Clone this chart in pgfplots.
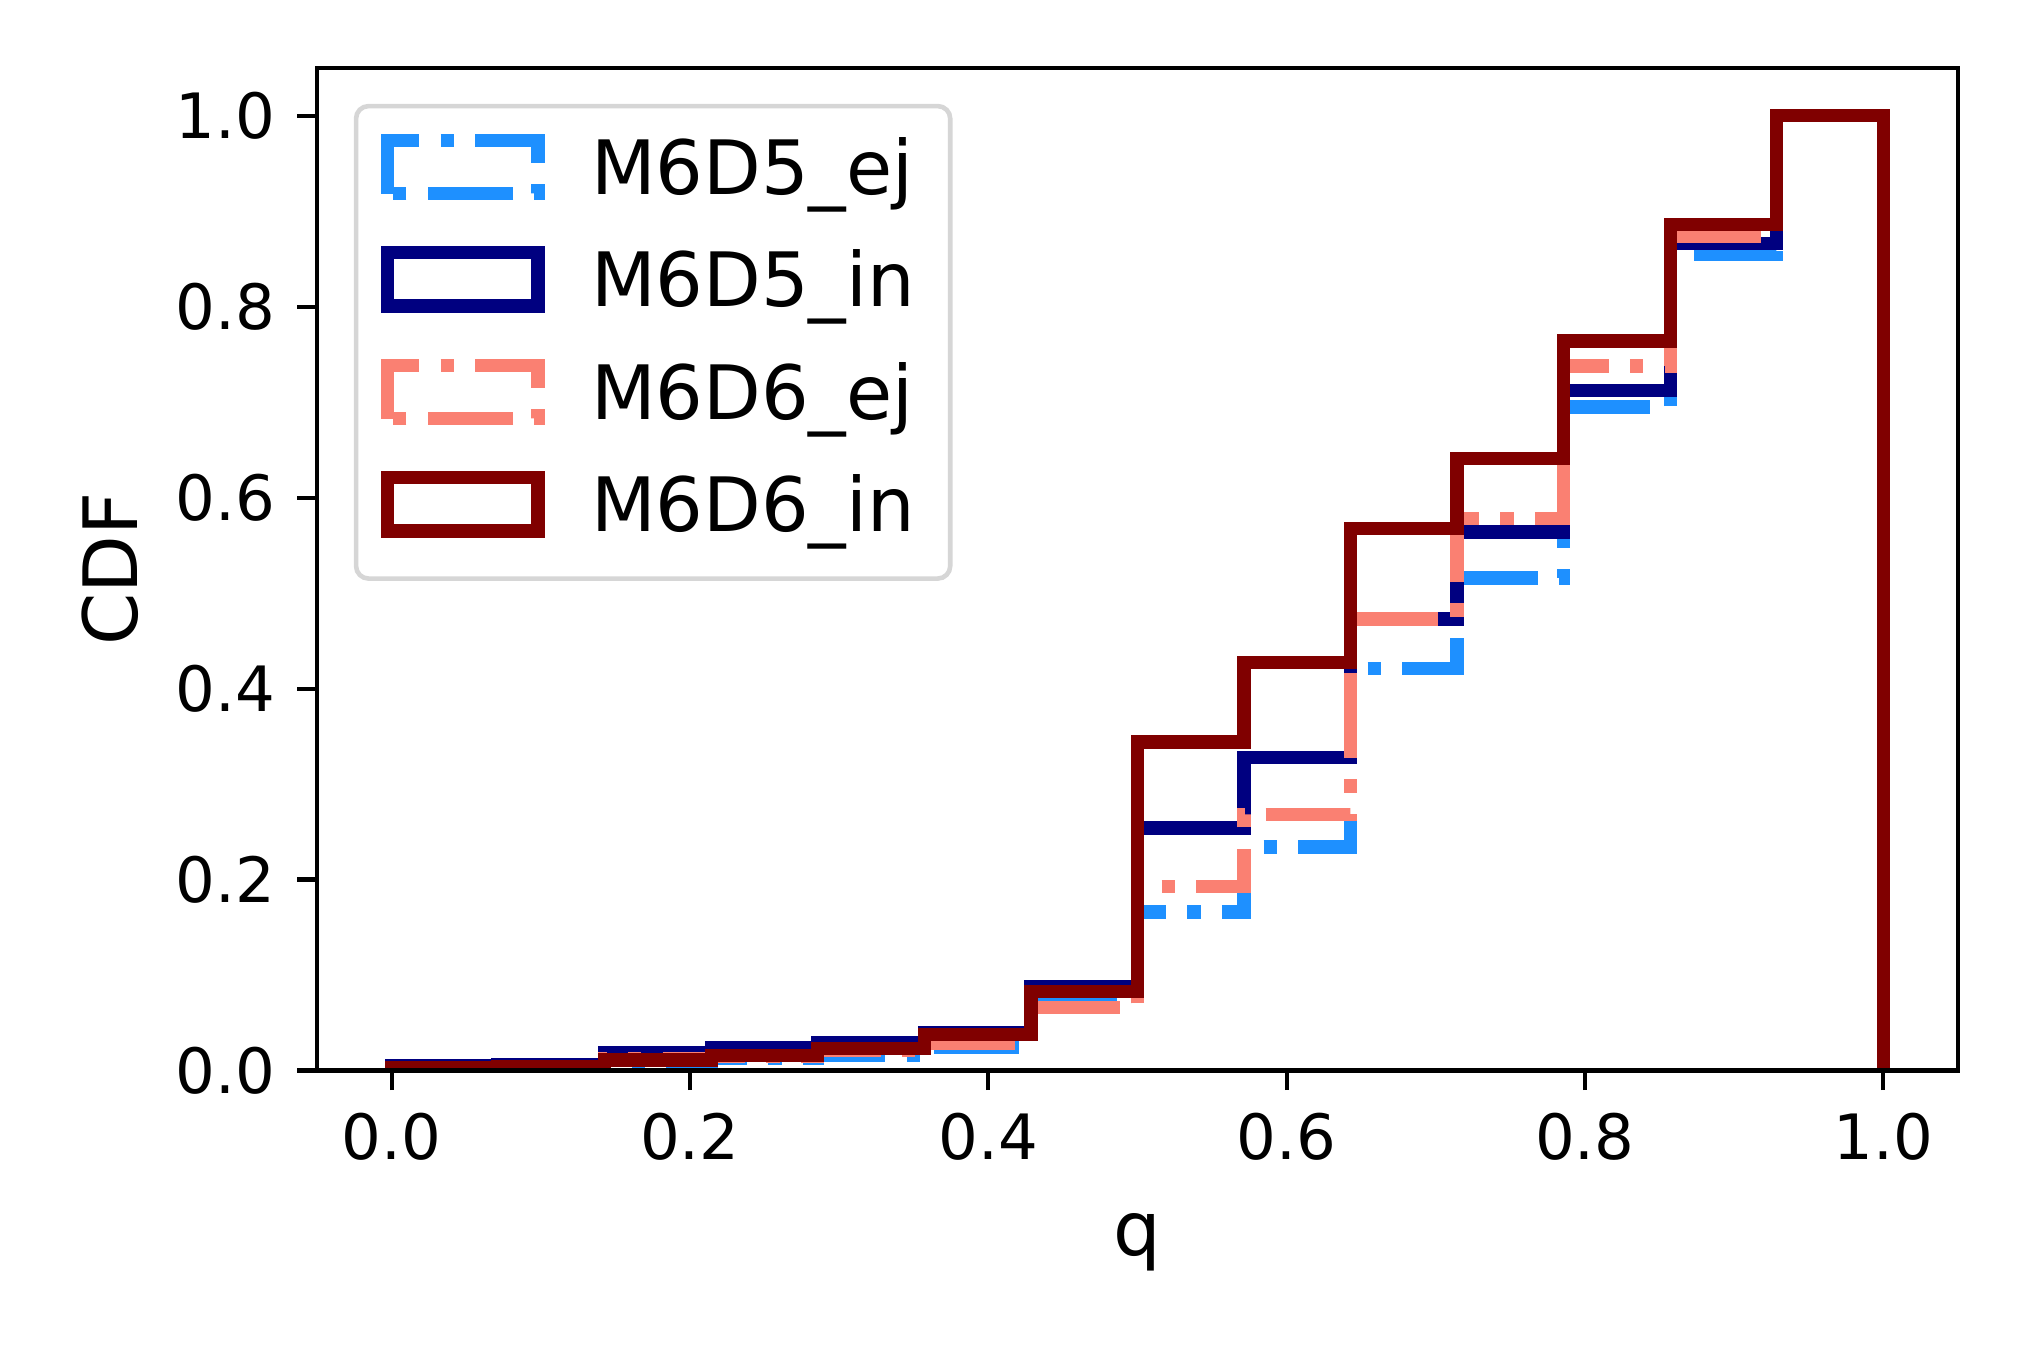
\documentclass[border=0pt]{standalone}
\usepackage{fontspec}
\setmainfont{DejaVu Sans}
\usepackage{pgfplots}
\usepackage{pgfplotstable}
\pgfplotsset{compat=1.18}
\definecolor{cEJfive}{HTML}{1E90FF}
\definecolor{cINfive}{HTML}{000080}
\definecolor{cEJsix}{HTML}{FA8072}
\definecolor{cINsix}{HTML}{800000}
\definecolor{legframe}{HTML}{D6D6D6}

% step outline of cumulative histograms (14 bins on [0,1])
\pgfplotstableread{
x        a     b     c     d
0        0     0     0     0
0        0.002 0.005 0.002 0.003
0.071429 0.003 0.006 0.003 0.004
0.142857 0.008 0.019 0.012 0.011
0.214286 0.013 0.024 0.015 0.0155
0.285714 0.016 0.029 0.021 0.023
0.357143 0.024 0.040 0.028 0.038
0.428571 0.069 0.088 0.066 0.083
0.5      0.166 0.254 0.193 0.344
0.571429 0.234 0.328 0.268 0.427
0.642857 0.421 0.473 0.473 0.568
0.714286 0.516 0.564 0.578 0.641
0.785714 0.695 0.712 0.738 0.764
0.857143 0.855 0.866 0.874 0.886
0.928571 1     1     1     1
1        1     1     1     1
1        0     0     0     0
}\cdf

\begin{document}
\begin{tikzpicture}
\useasboundingbox (0,0) rectangle (486pt,324pt);
\begin{axis}[
  at={(76.08pt,67.08pt)}, anchor=south west,
  scale only axis, width=393.8pt, height=240.6pt,
  xmin=-0.05, xmax=1.05, ymin=0, ymax=1.05,
  xtick={0,0.2,0.4,0.6,0.8,1.0},
  ytick={0,0.2,0.4,0.6,0.8,1.0},
  xticklabel={\pgfmathprintnumber[fixed,fixed zerofill,precision=1]{\tick}},
  yticklabel={\pgfmathprintnumber[fixed,fixed zerofill,precision=1]{\tick}},
  /pgf/number format/assume math mode=true,
  tick label style={font=\fontsize{15}{18}\selectfont},
  xticklabel style={anchor=base, inner sep=0pt, yshift=-16.6pt},
  yticklabel style={anchor=east, inner sep=0pt, xshift=-5.1pt},
  tick align=outside, tick pos=left,
  major tick length=4.7pt,
  tick style={line width=1pt, black},
  axis line style={line width=1.03pt},
  axis on top,
  xlabel={q}, ylabel={CDF},
  label style={font=\fontsize{18}{21.6}\selectfont},
  xlabel style={at={(axis description cs:0.5,-0.185)}, anchor=base, inner sep=0pt},
  ylabel style={at={(axis description cs:-0.1097,0.5)}, anchor=base, inner sep=0pt},
  legend cell align=left,
  legend image code/.code={
    \draw[#1, sharp corners, fill=none] (0pt,-6.4pt) rectangle (36.2pt,6.4pt);
    \path[draw=none, fill=none] (0pt,-15.1pt) rectangle (48.9pt,11.9pt);
  },
  legend style={
    at={(axis description cs:0.0238,0.962)}, anchor=north west,
    draw=legframe, line width=1.1pt, rounded corners=3pt, fill=white,
    outer sep=0pt,
    inner xsep=5.9pt, inner ysep=2.7pt,
    font=\fontsize{18}{21.6}\selectfont,
    nodes={inner sep=0pt, text height=13.12pt, text depth=0pt, text width=80.3pt, align=left},
    row sep=0pt, column sep=0pt,
  },
  every axis plot/.append style={const plot, line width=3.2pt, line join=miter, line cap=butt},
]
\addplot[cEJfive, dash pattern=on 20.5pt off 5.1pt on 3.2pt off 5.1pt] table[x=x,y=a] {\cdf};
\addlegendentry{M6D5\_ej}
\addplot[cINfive] table[x=x,y=b] {\cdf};
\addlegendentry{M6D5\_in}
\addplot[cEJsix, dash pattern=on 20.5pt off 5.1pt on 3.2pt off 5.1pt] table[x=x,y=c] {\cdf};
\addlegendentry{M6D6\_ej}
\addplot[cINsix] table[x=x,y=d] {\cdf};
\addlegendentry{M6D6\_in}
\end{axis}
\end{tikzpicture}
\end{document}
